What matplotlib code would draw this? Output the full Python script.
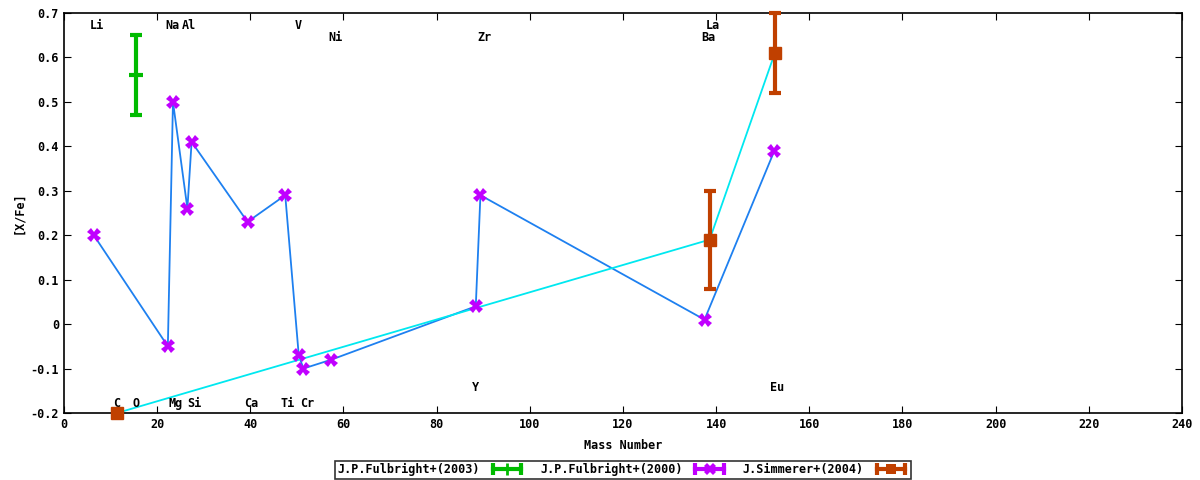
import matplotlib.pyplot as plt
from matplotlib.lines import Line2D
from matplotlib.legend_handler import HandlerLine2D, HandlerTuple
import numpy as np

# Fulbright+ (2003): one point with error bar
f03_a = [15.5]
f03_y = [0.56]
f03_lo = [0.47]
f03_hi = [0.65]

# Fulbright+ (2000): points joined in the order given
f00_a = [6.4, 22.3, 23.4, 26.5, 27.4, 39.4, 47.5, 50.4, 51.4, 57.4, 88.4, 89.4, 137.5, 152.5]
f00_y = [0.20, -0.05, 0.50, 0.26, 0.41, 0.23, 0.29, -0.07, -0.10, -0.08, 0.04, 0.29, 0.01, 0.39]

# Simmerer+ (2004)
sim_a = [11.4, 138.6, 152.6]
sim_y = [-0.20, 0.19, 0.61]
sim_lo = [-0.20, 0.08, 0.52]
sim_hi = [-0.20, 0.30, 0.70]

# element labels
el_names = ['Li', 'Na', 'Al', 'V', 'Ni', 'Zr', 'La', 'Ba',
            'C', 'O', 'Mg', 'Si', 'Ca', 'Ti', 'Cr', 'Y', 'Eu']
el_x = [7.1, 23.2, 26.9, 50.2, 58.2, 90.2, 139.2, 138.3,
        11.4, 15.5, 24.0, 28.1, 40.1, 48.1, 52.2, 88.4, 153.1]
el_y = [0.671, 0.671, 0.671, 0.671, 0.644, 0.644, 0.671, 0.644,
        -0.178, -0.178, -0.178, -0.178, -0.178, -0.178, -0.178, -0.142, -0.142]

plt.rcParams['font.family'] = 'DejaVu Sans Mono'
plt.rcParams['font.size'] = 8

fig = plt.figure(figsize=(12, 4.8), dpi=100)
ax = fig.add_axes([0.0533, 0.1396, 0.9317, 0.8334])

green = '#00bb00'
purple = '#c000ff'
orange = '#c04000'
blue = '#1e80f0'
cyan = '#00e8f0'

# lines
ax.plot(f00_a, f00_y, color=blue, lw=1.3, zorder=2)
ax.plot(sim_a, sim_y, color=cyan, lw=1.3, zorder=2)

# error bars / points
y = np.array(f03_y)
ax.errorbar(f03_a, f03_y, yerr=[y - np.array(f03_lo), np.array(f03_hi) - y],
            fmt='_', color=green, ms=10, mew=3, elinewidth=3, capsize=4, capthick=3, zorder=3)
ax.plot(f00_a, f00_y, 'X', color=purple, ms=10, mew=0, zorder=4)
y = np.array(sim_y)
ax.errorbar(sim_a, sim_y, yerr=[y - np.array(sim_lo), np.array(sim_hi) - y],
            fmt='s', color=orange, ms=8, elinewidth=3, capsize=4, capthick=3,
            zorder=4, clip_on=False)

for n, xx, yy in zip(el_names, el_x, el_y):
    ax.text(xx, yy, n, ha='center', va='center', fontsize=8.5, fontweight='bold')

ax.set_xlim(0, 240)
ax.set_ylim(-0.2, 0.7)
ax.set_xticks(np.arange(0, 241, 20))
ax.set_yticks(np.arange(-0.2, 0.71, 0.1))
ax.set_yticklabels(['-0.2', '-0.1', '0', '0.1', '0.2', '0.3', '0.4', '0.5', '0.6', '0.7'])
ax.tick_params(direction='in', top=True, right=True, length=5, labelsize=8.5)
for lab in ax.get_xticklabels() + ax.get_yticklabels():
    lab.set_fontweight('bold')
for s in ax.spines.values():
    s.set_linewidth(1.2)

ax.set_xlabel('Mass Number', fontsize=8.5, fontweight='bold', labelpad=6)
ax.set_ylabel('[X/Fe]', fontsize=8.5, fontweight='bold', labelpad=4)

# legend samples drawn as horizontal bars with end caps, like the reference
handles = []
hmap = {}
for c, m, ms in [(green, '+', 8), (purple, 'X', 8), (orange, 's', 7)]:
    bar = Line2D([], [], color=c, lw=3, marker='|', ms=8, mew=3)
    pt = Line2D([], [], color=c, ls='none', marker=m, ms=ms, mew=2 if m == '+' else 0)
    hmap[bar] = HandlerLine2D(numpoints=2)
    handles.append((bar, pt))
hmap[tuple] = HandlerTuple(ndivide=1, pad=0)

leg = ax.legend(handles, ['J.P.Fulbright+(2003)', 'J.P.Fulbright+(2000)', 'J.Simmerer+(2004)'],
                handler_map=hmap, loc='upper center', bbox_to_anchor=(0.5, -0.105), ncol=3,
                markerfirst=False, frameon=True, fancybox=False, edgecolor='black',
                borderpad=0.2, handlelength=3, columnspacing=1.3, handletextpad=0.8,
                prop={'weight': 'bold', 'size': 8.5})
leg.get_frame().set_linewidth(1.2)

fig.savefig('out.png', dpi=100)
